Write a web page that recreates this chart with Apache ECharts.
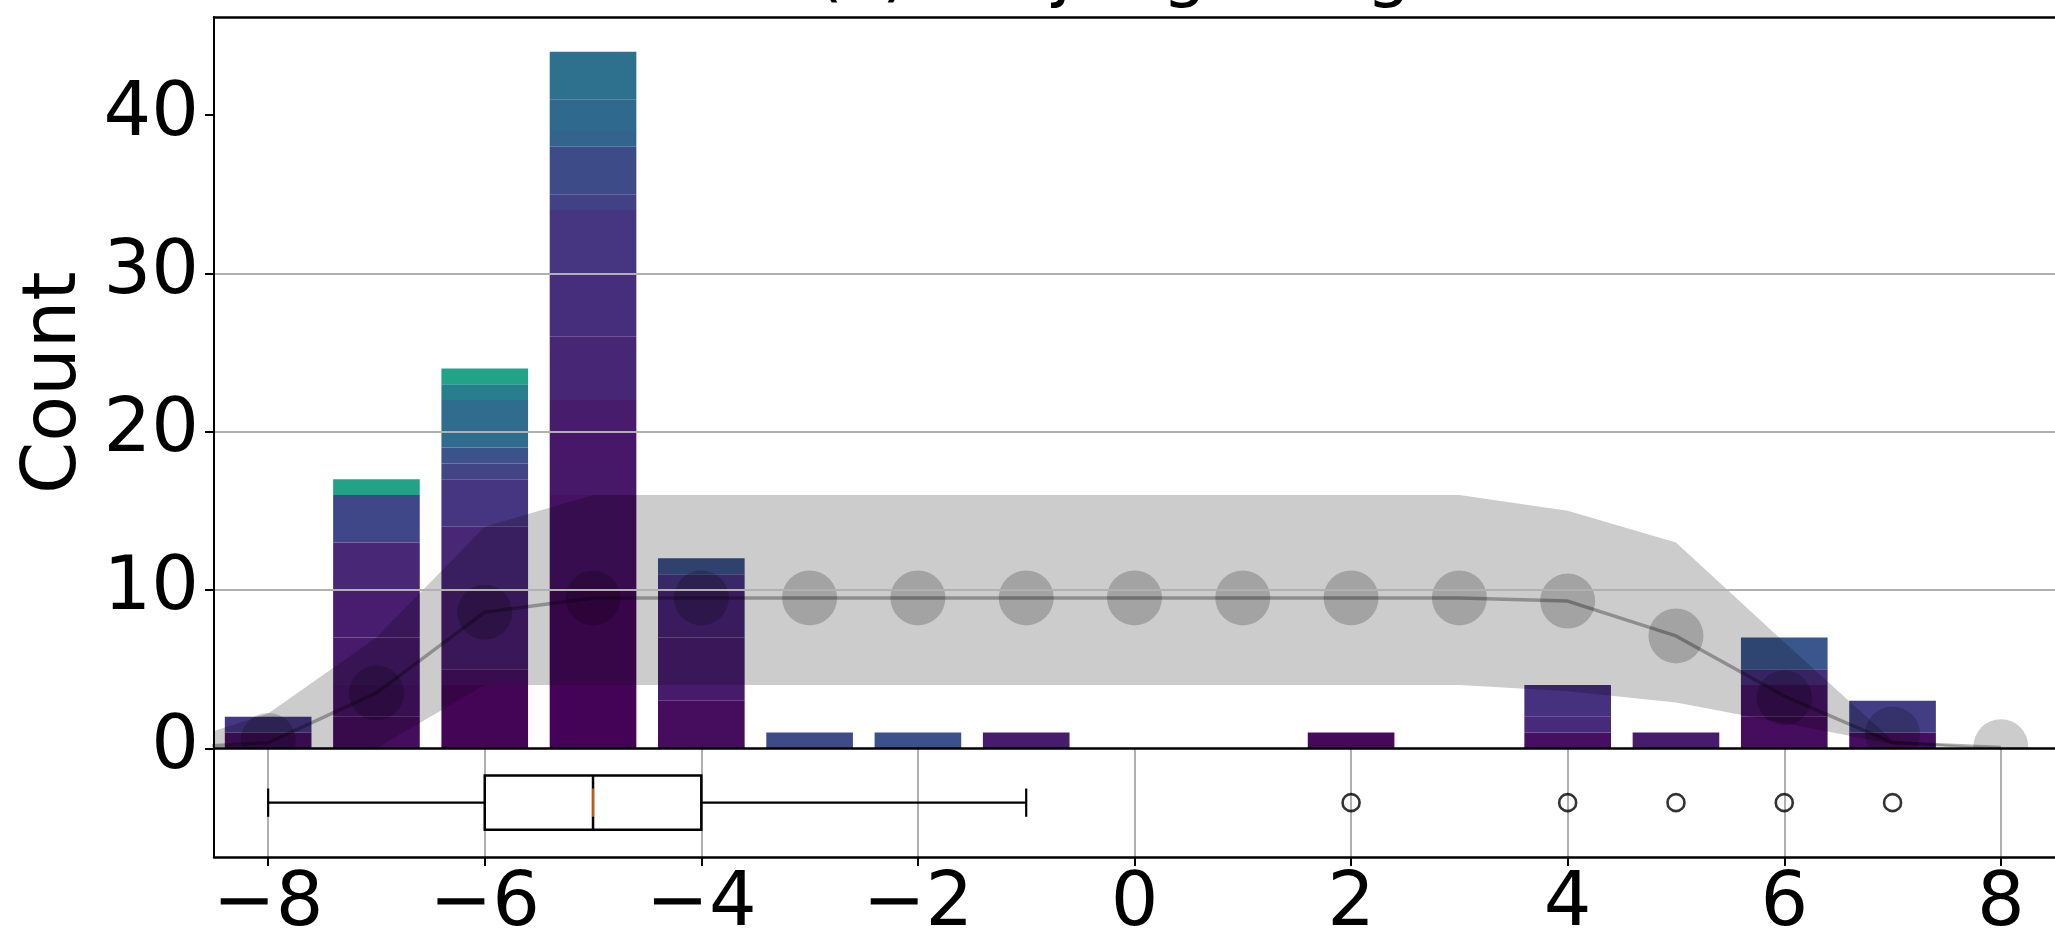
<!DOCTYPE html>
<html><head><meta charset="utf-8">
<script src="https://cdn.jsdelivr.net/npm/echarts@6/dist/echarts.min.js"></script>
<style>html,body{margin:0;padding:0;background:#fff}#c{width:2055px;height:943px}</style>
</head><body><div id="c"></div>
<script>
// ---------------- data ----------------
const titleText = '(c) Tanjung Range';
const yLabel = 'Count';
const binCenters = [-8,-7,-6,-5,-4,-3,-2,-1,0,1,2,3,4,5,6,7,8];
const binCounts  = [2,17,24,44,12,1,1,1,0,0,1,0,4,1,7,3,0];
// colour runs inside each bar, bottom to top: [units, viridis fraction]
const binShadeRuns = [
  [[1,0.04],[1,0.16]],
  [[2,0.03],[2,0.05],[3,0.07],[3,0.08],[3,0.11],[3,0.21],[1,0.58]],
  [[4,0.01],[1,0.04],[5,0.08],[4,0.11],[3,0.155],[1,0.2],[1,0.25],[3,0.35],[1,0.43],[1,0.58]],
  [[4,0.005],[6,0.02],[6,0.045],[4,0.065],[2,0.075],[4,0.105],[4,0.13],[4,0.155],[1,0.19],[3,0.23],[1,0.32],[2,0.34],[3,0.37]],
  [[3,0.03],[1,0.07],[3,0.08],[3,0.1],[1,0.15],[1,0.25]],
  [[1,0.22]],
  [[1,0.245]],
  [[1,0.075]],
  [],
  [],
  [[1,0.02]],
  [],
  [[1,0.04],[1,0.12],[2,0.14]],
  [[1,0.075]],
  [[2,0.03],[2,0.05],[1,0.13],[2,0.27]],
  [[1,0.035],[2,0.18]],
  []
];
const bandX     = [-9,-8,-7,-6,-5,-4,-3,-2,-1,0,1,2,3,4,5,6,7,8];
const bandUpper = [0,2.2,7,14,16,16,16,16,16,16,16,16,16,15,13,6.7,0.5,0];
const bandLower = [0,0,0,4,4,4,4,4,4,4,4,4,4,3.6,2.9,1.6,0.25,0];
const medianLine= [0,0.35,3.5,8.6,9.5,9.5,9.5,9.5,9.5,9.5,9.5,9.5,9.5,9.3,7.1,3.3,0.35,0.05];
const dotY      = [0.5,3.5,8.6,9.5,9.5,9.5,9.5,9.5,9.5,9.5,9.5,9.5,9.3,7.1,3.2,0.9,0.1];
const boxStats  = [-8,-6,-5,-4,-1];   // whisker low, Q1, median, Q3, whisker high
const outliers  = [2,4,5,6,7];
const xTicks = [-8,-6,-4,-2,0,2,4,6,8];
const yTicks = [0,10,20,30,40];

// ---------------- helpers ----------------
const VIR = ['#440154','#471365','#482475','#463480','#414487','#3b528b','#355f8d','#2f6c8e','#2a788e','#25848e','#21918c','#1e9c89','#22a884','#2fb47c','#44bf70','#5ec962','#7ad151','#9bd93c','#bddf26','#dfe318','#fde725'];
function hx(h){return [1,3,5].map(i=>parseInt(h.substr(i,2),16));}
function viridis(f){
  const n = VIR.length-1, t = Math.max(0,Math.min(1,f))*n;
  const i = Math.min(Math.floor(t), n-1), u = t-i;
  const a = hx(VIR[i]), b = hx(VIR[i+1]);
  return 'rgb(' + a.map((v,k)=>Math.round(v+(b[k]-v)*u)).join(',') + ')';
}
const FONT = 'DejaVu Sans';
const fmtX = v => String(v).replace('-', '\u2212');

const barItems = [];
binCenters.forEach((x,i)=>{
  let y = 0;
  binShadeRuns[i].forEach(([n,f])=>{ barItems.push([x, y, y+n, f]); y += n; });
});

const chart = echarts.init(document.getElementById('c'), null, {renderer:'canvas', width:2055, height:943});
const GL = 214, GW = 1843.7;

chart.setOption({
  animation: false,
  backgroundColor: '#fff',
  graphic: [{
    type:'text', x: 1135, y: -25, z: 50,
    style:{text: titleText, font: '71px "DejaVu Sans"', fill:'#000', align:'center', verticalAlign:'middle'}
  }],
  grid: [
    {left: GL, top: 17, width: GW, height: 731.3, containLabel:false},
    {left: GL, top: 748.3, width: GW, height: 110, containLabel:false}
  ],
  xAxis: [
    {type:'value', gridIndex:0, min:-8.5, max:8.5, position:'bottom', z:6,
     axisLine:{show:true, onZero:false, lineStyle:{color:'#000', width:2.5}},
     axisTick:{show:false}, axisLabel:{show:false}, splitLine:{show:false}},
    {type:'value', gridIndex:0, min:-8.5, max:8.5, position:'top', z:6,
     axisLine:{show:true, onZero:false, lineStyle:{color:'#000', width:2.5}},
     axisTick:{show:false}, axisLabel:{show:false}, splitLine:{show:false}},
    {type:'value', gridIndex:1, min:-8.5, max:8.5, position:'bottom', z:1,
     axisLine:{show:true, onZero:false, lineStyle:{color:'#000', width:2.5}},
     axisTick:{show:true, customValues: xTicks, length:9, lineStyle:{color:'#000', width:2}},
     axisLabel:{show:true, customValues: xTicks, margin:11, formatter: fmtX,
       fontFamily: FONT, fontSize:75, color:'#000'},
     splitLine:{show:true, lineStyle:{color:'#b0b0b0', width:2}}}
  ],
  yAxis: [
    {type:'value', gridIndex:0, min:0, max:46.2, position:'left', z:5,
     name: yLabel, nameLocation:'middle', nameGap:114,
     nameTextStyle:{fontFamily: FONT, fontSize:75, color:'#000'},
     axisLine:{show:true, onZero:false, lineStyle:{color:'#000', width:2}},
     axisTick:{show:true, customValues: yTicks, length:9, lineStyle:{color:'#000', width:2}},
     axisLabel:{show:true, customValues: yTicks, margin:15, fontFamily: FONT, fontSize:75, color:'#000'},
     splitLine:{show:true, showMinLine:false, showMaxLine:false, lineStyle:{color:'#b0b0b0', width:2}}},
    {type:'value', gridIndex:1, min:0, max:1, position:'left',
     axisLine:{show:true, onZero:false, lineStyle:{color:'#000', width:2}},
     axisTick:{show:false}, axisLabel:{show:false}, splitLine:{show:false}}
  ],
  series: [
    { // stacked coloured histogram
      type:'custom', xAxisIndex:0, yAxisIndex:0, z:1, clip:true,
      data: barItems,
      renderItem(params, api){
        const x = api.value(0), y0 = api.value(1), y1 = api.value(2), f = api.value(3);
        const p0 = api.coord([x-0.4, y1]), p1 = api.coord([x+0.4, y0]);
        return {type:'rect', shape:{x:p0[0], y:p0[1], width:p1[0]-p0[0], height:p1[1]-p0[1]},
                style:{fill: viridis(f)}};
      }
    },
    { // uncertainty band
      type:'custom', xAxisIndex:0, yAxisIndex:0, z:2, clip:true,
      data:[[0,0]],
      renderItem(params, api){
        const pts = [];
        bandX.forEach((x,i)=>pts.push(api.coord([x, bandUpper[i]])));
        for (let i=bandX.length-1;i>=0;i--) pts.push(api.coord([bandX[i], bandLower[i]]));
        return {type:'polygon', shape:{points:pts}, style:{fill:'rgba(0,0,0,0.2)'}};
      }
    },
    { // median line
      type:'line', xAxisIndex:0, yAxisIndex:0, z:3, clip:true,
      data: bandX.map((x,i)=>[x, medianLine[i]]),
      showSymbol:false, symbol:'none',
      lineStyle:{color:'rgba(0,0,0,0.3)', width:3.5}
    },
    { // dots
      type:'custom', xAxisIndex:0, yAxisIndex:0, z:4, clip:true,
      data: binCenters.map((x,i)=>[x, dotY[i]]),
      renderItem(params, api){
        const p = api.coord([api.value(0), api.value(1)]);
        return {type:'circle', shape:{cx:p[0], cy:p[1], r:27.5}, style:{fill:'rgba(0,0,0,0.2)'}};
      }
    },
    { // box plot
      type:'custom', xAxisIndex:2, yAxisIndex:1, z:3,
      data:[[0,0.5]],
      renderItem(params, api){
        const [lo,q1,med,q3,hi] = boxStats;
        const yc = 0.5, hb = 0.25, hc = 0.13;
        const P = (x,y)=>api.coord([x,y]);
        const ln = (p,q,stroke,w)=>({type:'line', shape:{x1:p[0],y1:p[1],x2:q[0],y2:q[1]}, style:{stroke:stroke, lineWidth:w}});
        const a = P(q1, yc+hb), b = P(q3, yc-hb);
        return {type:'group', children:[
          ln(P(lo,yc),P(q1,yc),'#000',2.2),
          ln(P(q3,yc),P(hi,yc),'#000',2.2),
          ln(P(lo,yc-hc),P(lo,yc+hc),'#000',2.2),
          ln(P(hi,yc-hc),P(hi,yc+hc),'#000',2.2),
          {type:'rect', shape:{x:a[0], y:a[1], width:b[0]-a[0], height:b[1]-a[1]},
           style:{fill:'rgba(0,0,0,0)', stroke:'#000', lineWidth:2.5}},
          ln(P(med,yc-hb),P(med,yc+hb),'#000',2.5),
          ln(P(med,yc-hc),P(med,yc+hc),'#ff7f0e',1.5)
        ]};
      }
    },
    { // outliers
      type:'scatter', xAxisIndex:2, yAxisIndex:1, z:4,
      data: outliers.map(x=>[x,0.5]),
      symbol:'circle', symbolSize:17,
      itemStyle:{color:'rgba(0,0,0,0)', borderColor:'#000', borderWidth:2.6}
    }
  ]
});
</script></body></html>
